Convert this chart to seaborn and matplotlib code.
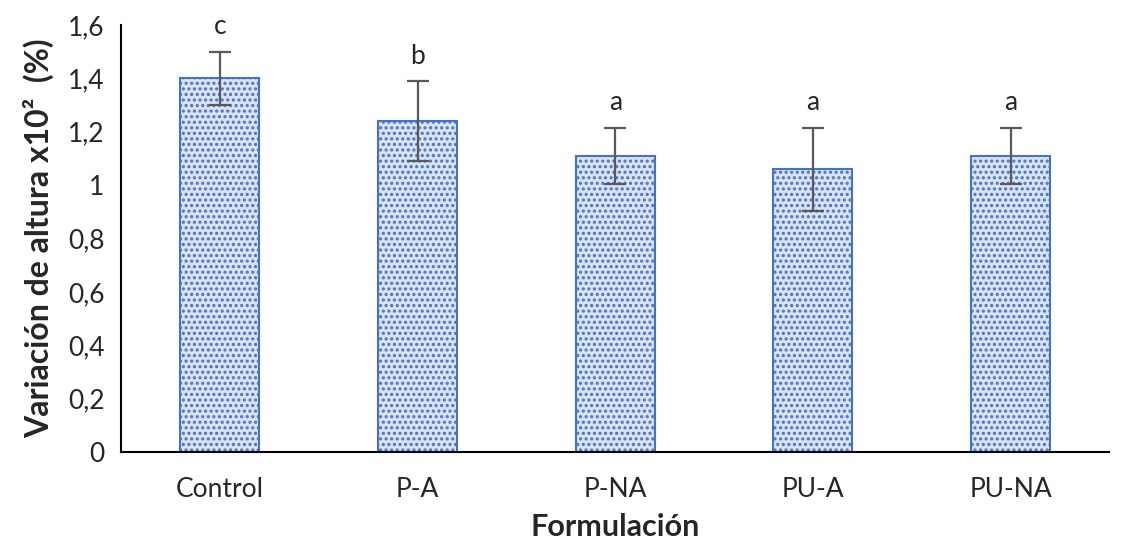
import matplotlib
matplotlib.use("Agg")
import matplotlib.pyplot as plt
import seaborn as sns
import pandas as pd
import numpy as np

categories = ["Control", "P-A", "P-NA", "PU-A", "PU-NA"]
values = [1.40, 1.24, 1.11, 1.06, 1.11]
errors = [0.10, 0.15, 0.105, 0.155, 0.105]
letters = ["c", "b", "a", "a", "a"]
yticks = [0, 0.2, 0.4, 0.6, 0.8, 1.0, 1.2, 1.4, 1.6]
ytick_labels = ["0", "0,2", "0,4", "0,6", "0,8", "1", "1,2", "1,4", "1,6"]

sns.set_style("white")
plt.rcParams["font.family"] = ["Lato", "DejaVu Sans"]
plt.rcParams["hatch.linewidth"] = 1.5
plt.rcParams["hatch.color"] = "#4472c4"

df = pd.DataFrame({"Formulación": categories, "val": values})

fig = plt.figure(figsize=(11.32, 5.44), dpi=100)
ax = fig.add_axes([0.107, 0.169, 0.873, 0.785])

sns.barplot(data=df, x="Formulación", y="val", ax=ax, color="#dae3f3",
            width=0.4, edgecolor="#4472c4", linewidth=1.5, errorbar=None,
            saturation=1)
for p in ax.patches:
    p.set_hatch("...")
    p.set_edgecolor("#4472c4")

xs = np.arange(len(categories))
ax.errorbar(xs, values, yerr=errors, fmt="none", ecolor="#595959",
            elinewidth=1.6, capsize=8, capthick=1.6, zorder=5)

for x, v, e, l in zip(xs, values, errors, letters):
    ax.annotate(l, (x, v + e), xytext=(0, 9), textcoords="offset points",
                ha="center", va="bottom", fontsize=19, annotation_clip=False)

ax.set_ylim(0, 1.6)
ax.set_xlim(-0.5, len(categories) - 0.5)
ax.set_yticks(yticks)
ax.set_yticklabels(ytick_labels)
ax.tick_params(axis="both", labelsize=19, length=0, pad=12)
ax.tick_params(axis="x", pad=18)
for s in ["top", "right"]:
    ax.spines[s].set_visible(False)
for s in ["left", "bottom"]:
    ax.spines[s].set_color("black")
    ax.spines[s].set_linewidth(1.5)

ax.set_xlabel("Formulación", fontsize=22, fontweight="bold", labelpad=8)
ax.set_ylabel("Variación de altura x10²  (%)", fontsize=23, fontweight="bold", labelpad=10)

fig.savefig("out.png", dpi=100)
